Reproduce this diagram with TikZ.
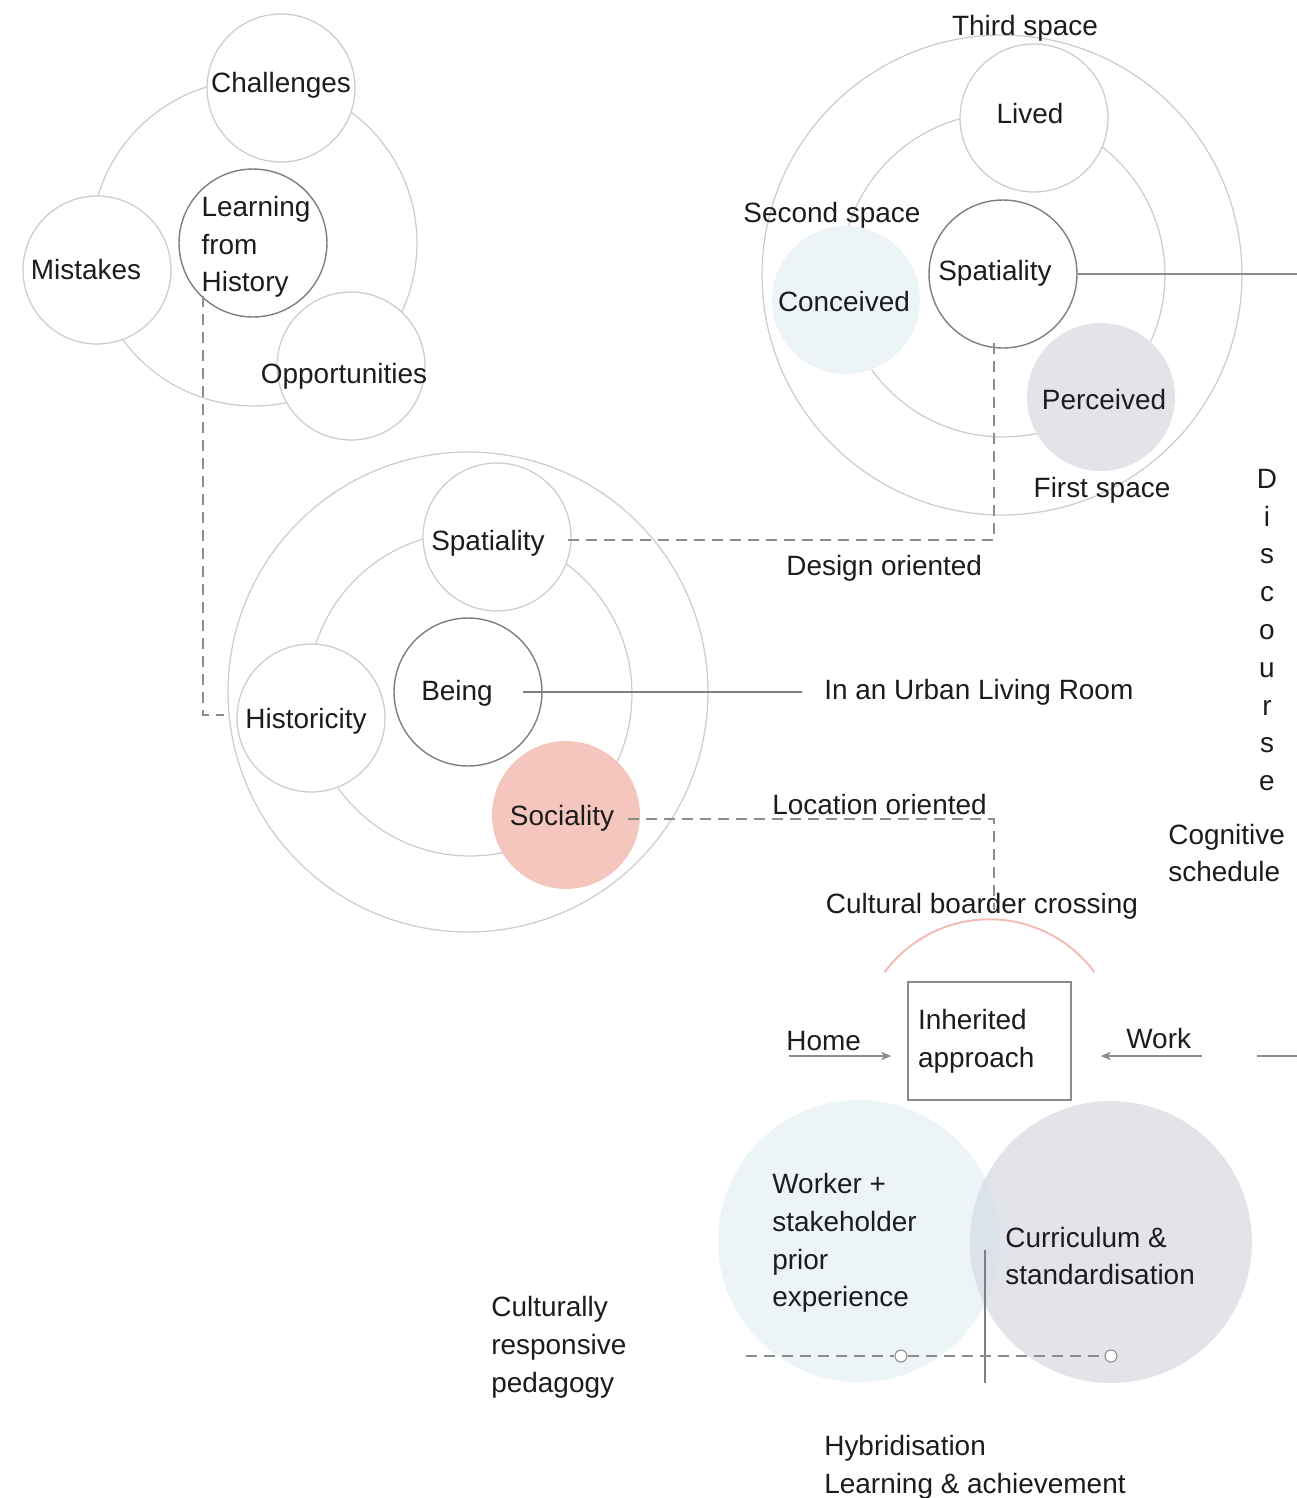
\documentclass[tikz,border=0pt]{standalone}
\usepackage{fontspec}
\setmainfont{Liberation Sans}
\usetikzlibrary{calc,positioning,arrows.meta}
\definecolor{ringgray}{HTML}{CCCCCC}
\definecolor{coregray}{HTML}{7F7F7F}
\definecolor{dashgray}{HTML}{8C8C8C}
\definecolor{sociapink}{HTML}{F5C6BE}
\definecolor{arcpink}{HTML}{F4BBB3}
\definecolor{palblue}{HTML}{EDF4F8}
\definecolor{palgray}{HTML}{E3E4E9}
\definecolor{overlapblue}{HTML}{DCE2E9}
\definecolor{inkblack}{HTML}{1C1C1C}
% text inside a circle, not widening it; optional x and y offset
\newcommand{\bubbletext}[3][0cm]{\makebox[0pt]{\hspace*{#1}\raisebox{#2}[\height][\depth]{#3}\hspace*{-#1}}}

\begin{document}
\begin{tikzpicture}[
        x=0.02cm, y=-0.02cm,
        font={\fontsize{15.9pt}{21.5pt}\selectfont},
        text=inkblack,
        ring/.style={circle, draw=ringgray, line width=0.7pt, inner sep=0pt},
        bubble/.style={circle, draw=ringgray, line width=0.7pt, fill=white, minimum size=2.96cm, inner sep=0pt},
        core/.style={bubble, draw=coregray, line width=0.8pt},
        tinted/.style={circle, minimum size=2.96cm, inner sep=0pt},
        words/.style={inner sep=0pt, anchor=west, align=left},
        dashline/.style={draw=dashgray, line width=0.7pt, dash pattern=on 0.22cm off 0.14cm},
        link/.style={draw=coregray, line width=0.6pt},
        thicklink/.style={draw=dashgray, line width=1.1pt},
        arrow/.style={-{Stealth[length=6pt,width=5pt]}, draw=dashgray, line width=0.7pt},
        dot/.style={circle, draw=dashgray, line width=0.6pt, fill=white, minimum size=0.24cm, inner sep=0pt},
    ]
    \useasboundingbox (0,0) rectangle (1297,1498);

    % Learning from history
    \node[ring, minimum size=6.52cm] (lfhring) at (254,243) {};
    \node[bubble] (challenges) at (281,88) {\bubbletext{0.06cm}{Challenges}};
    \node[bubble] (mistakes) at (97,270) {\bubbletext[-0.22cm]{0cm}{Mistakes}};
    \node[bubble] (opportunities) at (351,366) {\bubbletext[-0.14cm]{-0.2cm}{Opportunities}};
    \node[core] (lfh) at (253,243) {\bubbletext[0.06cm]{-0.07cm}{\begin{tabular}{@{}l@{}}Learning\\from\\History\end{tabular}}};

    % Third space
    \node[ring, minimum size=9.6cm] (thirdring) at (1002,275) {};
    \node[ring, minimum size=6.48cm] (secondring) at (1003,275) {};
    \node[bubble] (lived) at (1034,118) {\bubbletext[-0.08cm]{0.08cm}{Lived}};
    \node[tinted, fill=palblue] (conceived) at (846,300) {\bubbletext[-0.04cm]{-0.04cm}{Conceived}};
    \node[tinted, fill=palgray] (perceived) at (1101,397) {\bubbletext[0.06cm]{-0.06cm}{Perceived}};
    \node[core] (spatialcore) at (1003,274) {\bubbletext[-0.16cm]{0.02cm}{Spatiality}};
    \node[words, anchor=center] (third) at (1025,28) {Third space};
    \node[words, anchor=center] (second) at (832,215) {Second space};
    \node[words, anchor=center] (first) at (1102,490) {First space};

    % Being
    \node[ring, minimum size=9.6cm] (outerring) at (468,692) {};
    \node[ring, minimum size=6.48cm] (innerring) at (470,694) {};
    \node[bubble] (spatiality) at (497,537) {\bubbletext[-0.18cm]{-0.12cm}{Spatiality}};
    \node[bubble] (historicity) at (311,718) {\bubbletext[-0.1cm]{-0.06cm}{Historicity}};
    \node[tinted, fill=sociapink] (sociality) at (566,815) {\bubbletext[-0.08cm]{-0.06cm}{Sociality}};
    \node[core] (being) at (468,692) {\bubbletext[-0.22cm]{-0.02cm}{Being}};

    \node[words] (urban) at (824,692) {In an Urban Living Room};
    \node[words] (design) at (786,568) {Design oriented};
    \node[words] (location) at (772,805) {Location oriented};
    \node[words, anchor=center] (boarder) at (982,906) {Cultural boarder crossing};
    \node[words, anchor=center, align=center] (discourse) at (1267,630) {D\\i\\s\\c\\o\\u\\r\\s\\e};
    \node[words] (cognitive) at (1168,853) {Cognitive\\schedule};

    % Hybridisation
    \node[tinted, fill=palblue, minimum size=5.64cm] (worker) at (859,1241) {};
    \node[tinted, fill=palgray, minimum size=5.64cm] (curriculum) at (1111,1242) {};
    \begin{scope}
        \clip (worker.center) circle[radius=2.82cm];
        \fill[overlapblue] (curriculum.center) circle[radius=2.82cm];
    \end{scope}
    \node[words] (workertxt) at (772,1243) {Worker +\\stakeholder\\prior\\experience};
    \node[words] (curriculumtxt) at (1005,1256) {Curriculum \&\\standardisation};
    \node[words] (culturally) at (491,1347) {Culturally\\responsive\\pedagogy};
    \node[words] (hybrid) at (824,1467) {Hybridisation\\Learning \& achievement};

    \node[draw=dashgray, line width=0.8pt, text width=2.86cm, inner xsep=0.2cm,
          minimum height=2.36cm, align=left] (inherited) at (989.5,1041) {Inherited\\approach};
    \node[words] (home) at (786,1041) {Home};
    \node[words] (work) at (1126,1038) {Work};

    \coordinate (discourseA) at (1297,274);
    \coordinate (discourseB) at (1257,1056);
    \coordinate (discourseC) at (1297,1056);
    \coordinate (homestart) at (789,1056);
    \coordinate (workstart) at (1202,1056);
    \coordinate (splittop) at (985,1250);
    \coordinate (splitbottom) at (985,1383);
    \coordinate (hybstart) at (746,1356);
    \node[dot] (hybmid) at (901,1356) {};
    \node[dot] (hybend) at (1111,1356) {};

    % Lines
    \draw[dashline] ($(lfh.south)+(-50,-22)$) |- ($(historicity.west)+(-12,-3)$);
    \draw[dashline] ($(spatialcore.south)+(-9,-6)$) |- ($(spatiality.east)+(-4,3)$);
    \draw[dashline] ($(sociality.east)+(-12,4)$) -| ($(boarder.center)+(12,4)$);
    \draw[link] ($(being.center)+(55,0)$) -- ($(urban.west)+(-22,0)$);
    \draw[thicklink] (spatialcore.east) -- (discourseA);
    \draw[thicklink] (discourseB) -- (discourseC);
    \draw[draw=arcpink, line width=1.1pt] ($(inherited.north)+(-105,-9)$)
        arc[start angle=143.6, end angle=36.4, radius=2.61cm];
    \draw[arrow] (homestart) -- ($(inherited.west)+(-16,15)$);
    \draw[arrow] (workstart) -- ($(inherited.east)+(29,15)$);
    \draw[link] (splittop) -- (splitbottom);
    \draw[dashline] (hybstart) -- (hybmid);
    \draw[dashline] (hybmid) -- (hybend);

\end{tikzpicture}
\end{document}
